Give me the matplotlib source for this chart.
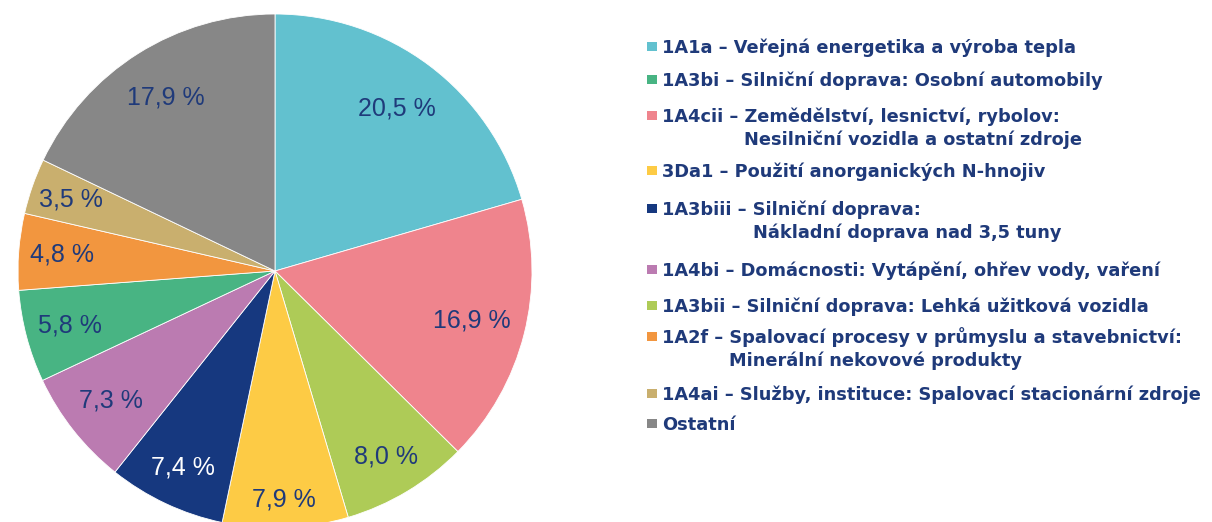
import numpy as np
import matplotlib as mpl
mpl.use('Agg')
import matplotlib.pyplot as plt
from matplotlib.patches import Rectangle

mpl.rcParams['font.family'] = ['Liberation Sans', 'DejaVu Sans']

# slices, clockwise from 12 o'clock
codes = ["1A1a", "1A4cii", "1A3bii", "3Da1", "1A3biii", "1A4bi", "1A3bi", "1A2f", "1A4ai", "Ostatní"]
shares = [20.5, 16.9, 8.0, 7.9, 7.4, 7.3, 5.8, 4.8, 3.5, 17.9]
colors = ["#62C1CF", "#EF848D", "#AECB57", "#FDCB45", "#16387F",
          "#BB7BB1", "#48B483", "#F2963F", "#C9AF6E", "#878787"]

# legend entries (own order)
legend_codes = ["1A1a", "1A3bi", "1A4cii", "3Da1", "1A3biii", "1A4bi", "1A3bii", "1A2f", "1A4ai", "Ostatní"]
legend_desc = [
    ["Veřejná energetika a výroba tepla"],
    ["Silniční doprava: Osobní automobily"],
    ["Zemědělství, lesnictví, rybolov:", "Nesilniční vozidla a ostatní zdroje"],
    ["Použití anorganických N-hnojiv"],
    ["Silniční doprava:", "Nákladní doprava nad 3,5 tuny"],
    ["Domácnosti: Vytápění, ohřev vody, vaření"],
    ["Silniční doprava: Lehká užitková vozidla"],
    ["Spalovací procesy v průmyslu a stavebnictví:", "Minerální nekovové produkty"],
    ["Služby, instituce: Spalovací stacionární zdroje"],
    [],
]

TXT = "#1F3A7A"
W, H = 1212, 522
DPI = 100

fig = plt.figure(figsize=(W / DPI, H / DPI), dpi=DPI)

# pie
cx, cy, r = 275, 271, 257
ax = fig.add_axes([(cx - r) / W, (H - cy - r) / H, 2 * r / W, 2 * r / H])
wedges, texts, autotexts = ax.pie(
    shares, colors=colors, startangle=90, counterclock=False,
    autopct=lambda p: ("%.1f %%" % p).replace(".", ","), pctdistance=0.8,
    wedgeprops=dict(linewidth=0.6, edgecolor="white"),
    textprops=dict(fontsize=18, color=TXT))
# label distance from centre, per slice (best fit placement)
label_dist = [0.79, 0.79, 0.84, 0.89, 0.845, 0.815, 0.825, 0.83, 0.84, 0.80]
for w, t, d in zip(wedges, autotexts, label_dist):
    a = np.deg2rad((w.theta1 + w.theta2) / 2)
    t.set_position((d * np.cos(a), d * np.sin(a)))
autotexts[codes.index("1A3biii")].set_color("white")
ax.set_xlim(-1, 1)
ax.set_ylim(-1, 1)
ax.set_aspect('equal')
ax.axis('off')

# legend
color_of = dict(zip(codes, colors))
baselines = [53, 86, 122, 177, 215, 276, 312, 343, 400, 430]
line_gap = 23
x_sq, x_txt = 647, 662
leg_font = dict(family='DejaVu Sans', fontsize=12.8, fontweight="bold")
fig.canvas.draw()
renderer = fig.canvas.get_renderer()
for code, desc, y in zip(legend_codes, legend_desc, baselines):
    fig.patches.append(Rectangle((x_sq / W, 1 - (y - 2) / H), 10 / W, 9 / H,
                                 transform=fig.transFigure, facecolor=color_of[code],
                                 edgecolor="none"))
    first = code + (" – " + desc[0] if desc else "")
    fig.text(x_txt / W, 1 - y / H, first, color=TXT, va="baseline", ha="left", **leg_font)
    if len(desc) > 1:
        pre = fig.text(0, 0, code + " – ", **leg_font)
        wpx = pre.get_window_extent(renderer).width
        pre.remove()
        fig.text((x_txt + wpx) / W, 1 - (y + line_gap) / H, desc[1], color=TXT,
                 va="baseline", ha="left", **leg_font)

fig.savefig("out.png", dpi=DPI)
